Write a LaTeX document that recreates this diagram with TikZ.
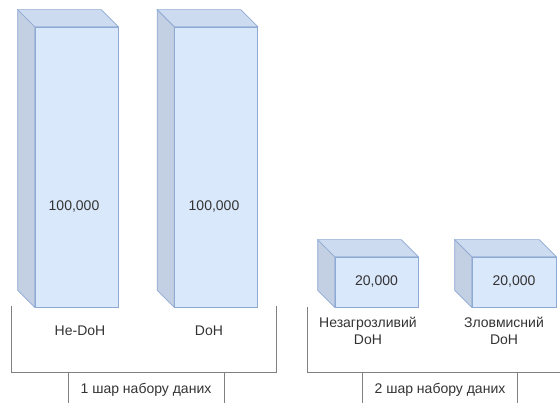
\documentclass[tikz,border=0pt]{standalone}
\usepackage{fontspec}
\setmainfont{Liberation Sans}
\definecolor{face}{HTML}{DAE8FC}
\definecolor{edge}{HTML}{8EA9D3}
\definecolor{sideface}{HTML}{C3CFE2}
\definecolor{topface}{HTML}{CDDBF0}
\definecolor{txt}{HTML}{333333}
\begin{document}
\begin{tikzpicture}[x=1pt,y=-1pt,
  front/.style={draw=edge,fill=face,line width=0.7pt,rectangle,inner sep=0pt,minimum width=83pt},
  count/.style={font=\fontsize{14}{17}\selectfont,text=txt},
  lbl/.style={font=\fontsize{14}{17.5}\selectfont,text=txt,align=center},
  brk/.style={draw=black!50,line width=0.8pt}]
\useasboundingbox (0,0) rectangle (560,403);
\def\d{17}
% cubes: front faces
\node[front,minimum height=280pt] (c1) at (76.5,167) {};
\node[front,minimum height=280pt] (c2) at (216,167) {};
\node[front,minimum height=50pt] (c3) at (376.5,282) {};
\node[front,minimum height=50pt,minimum width=84pt] (c4) at (514,282) {};
\foreach \c in {c1,c2,c3,c4}{
  \draw[edge,fill=sideface,line width=0.7pt] (\c.north west) -- ++(-\d,-\d) -- ([shift={(-\d,-\d)}]\c.south west) -- (\c.south west) -- cycle;
  \draw[edge,fill=topface,line width=0.7pt] (\c.north west) -- ++(-\d,-\d) -- ([shift={(-\d,-\d)}]\c.north east) -- (\c.north east) -- cycle;
}
\node[count] (n1) at (74,207) {100,000};
\node[count] (n2) at (214,207) {100,000};
\node[count] (n3) at (c3.center) {20,000};
\node[count] (n4) at (c4.center) {20,000};
% class labels
\node[lbl] (l1) at (80,331) {Не-DoH};
\node[lbl] (l2) at (209,331) {DoH};
\node[lbl] (l3) at (368,331) {Незагрозливий\\DoH};
\node[lbl] (l4) at (504,331) {Зловмисний\\DoH};
% brackets
\draw[brk] (11,306) -- (11,372) -- (276,372) -- (276,306);
\draw[brk] (68,372) -- (68,403);
\draw[brk] (224,372) -- (224,403);
\node[lbl] (s1) at (146,390) {1 шар набору даних};
\draw[brk] (307,307) -- (307,372) -- (560,372);
\draw[brk] (362,372) -- (362,403);
\draw[brk] (517,372) -- (517,403);
\node[lbl] (s2) at (440,390) {2 шар набору даних};
\end{tikzpicture}
\end{document}
